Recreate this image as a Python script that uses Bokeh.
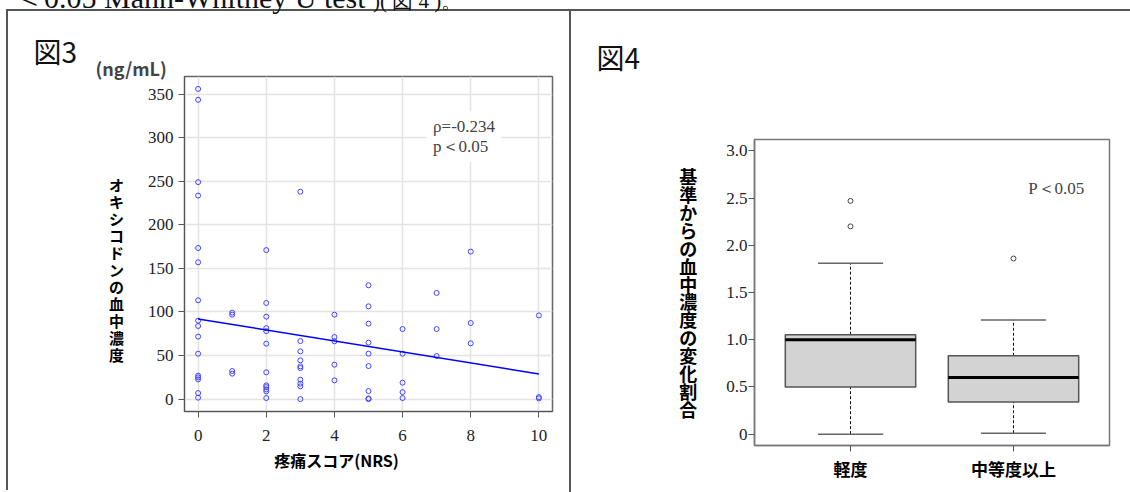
from bokeh.plotting import figure
from bokeh.models import Label, FixedTicker, Range1d, Title, Div
from bokeh.embed import file_html
from bokeh.resources import INLINE

# ---------------- data: figure 3 (scatter) ----------------
nrs_score = [0, 0, 0, 0, 0, 0, 0, 0, 0, 0, 0, 0, 0, 0, 0, 0,
             1, 1, 1, 1,
             2, 2, 2, 2, 2, 2, 2, 2, 2, 2, 2, 2,
             3, 3, 3, 3, 3, 3, 3, 3, 3, 3,
             4, 4, 4, 4, 4,
             5, 5, 5, 5, 5, 5, 5, 5, 5,
             6, 6, 6, 6, 6,
             7, 7, 7,
             8, 8, 8,
             10, 10, 10]
oxy_conc = [356, 343.5, 249, 233.6, 173.4, 157, 113.4, 90, 83.9, 71.7, 52.1, 26.9, 24.9, 22.6, 6.9, 1.6,
            99.2, 96.9, 32.2, 29.2,
            171, 110.3, 94.6, 81.5, 78, 63.6, 30.7, 15.7, 13.8, 11.1, 8.8, 1.2,
            238, 66.6, 54.8, 44.5, 37.6, 35.6, 22.3, 17.7, 14.6, 0,
            96.9, 71.2, 66.3, 39.5, 21.5,
            130.6, 106.5, 86.6, 64.8, 52.1, 37.9, 9.2, 0.8, 0,
            80.4, 52.1, 18.8, 8.0, 1.2,
            121.8, 80.4, 49.4,
            169.3, 87.3, 64,
            96, 2.3, 0.8]
reg_x = [0, 10]
reg_y = [92.0, 28.9]
x_ticks3 = [0, 2, 4, 6, 8, 10]
y_ticks3 = [0, 50, 100, 150, 200, 250, 300, 350]

# ---------------- data: figure 4 (boxplot) ----------------
groups = ["軽度", "中等度以上"]
group_pos = [1, 2]
q1 = [0.50, 0.34]
median = [1.00, 0.60]
q3 = [1.053, 0.83]
whisk_lo = [0.00, 0.01]
whisk_hi = [1.81, 1.21]
outlier_pos = [1, 1, 2]
outlier_val = [2.47, 2.20, 1.86]
y_ticks4 = [0, 0.5, 1.0, 1.5, 2.0, 2.5, 3.0]
y_labels4 = ["0", "0.5", "1.0", "1.5", "2.0", "2.5", "3.0"]

# text of the page above the panels (only its lower edge is visible in the picture)
page_text_latin = "＜0.05 Mann-Whitney U test"
page_text_tail = ")( 図 4 )。"

SERIF = "Liberation Serif"
JP = "Noto Sans CJK JP"
AX = "#555555"
LINE = "#555555"

# ---------------- figure 3 ----------------
p1 = figure(width=561, height=481, x_range=Range1d(-0.4, 10.4), y_range=Range1d(-14.24, 370.24),
            output_backend="svg", toolbar_location=None,
            min_border_left=176, min_border_right=17, min_border_top=65, min_border_bottom=81,
            styles={"position": "absolute", "left": "8px", "top": "11px",
                    "box-shadow": f"-2px -2px 0 0 {LINE}, 0 -2px 0 0 {LINE}, 2px 0 0 0 {LINE}"})
p1.title.visible = False
p1.xaxis.ticker = FixedTicker(ticks=x_ticks3)
p1.yaxis.ticker = FixedTicker(ticks=y_ticks3)
for ax in (p1.xaxis[0], p1.yaxis[0]):
    ax.axis_line_color = AX
    ax.major_tick_line_color = AX
    ax.major_tick_out = 6
    ax.major_tick_in = 0
    ax.minor_tick_line_color = None
    ax.major_label_text_font = SERIF
    ax.major_label_text_font_size = "17px"
    ax.major_label_text_color = "#222222"
    ax.axis_label_text_font = JP
    ax.axis_label_text_font_style = "bold"
    ax.axis_label_text_color = "black"
p1.yaxis.major_label_standoff = 5
p1.xaxis.major_label_standoff = 12
# vertical (tategaki) axis label; leading blank lines move it down like the original
p1.yaxis.axis_label = "\n\n\n" + "\n".join("オキシコドンの血中濃度")
p1.yaxis.axis_label_orientation = "horizontal"
p1.yaxis.axis_label_text_font_size = "15px"
p1.yaxis.axis_label_text_line_height = 0.81
p1.yaxis.axis_label_standoff = 21
p1.xaxis.axis_label = "疼痛スコア(NRS)" + "\u3000" * 4
p1.xaxis.axis_label_text_font_size = "16px"
p1.xaxis.axis_label_standoff = 4
p1.outline_line_color = "#666666"
p1.outline_line_width = 1.5
for g in (p1.xgrid[0], p1.ygrid[0]):
    g.grid_line_color = "#e3e3e3"
    g.grid_line_width = 1.5

p1.scatter(nrs_score, oxy_conc, marker="circle", size=5, fill_color=None,
           line_color="#4444ff", line_width=1)
p1.line(reg_x, reg_y, line_color="#0000ff", line_width=1.5)

p1.add_layout(Title(text="(ng/mL)", text_font=JP, text_font_size="18px", text_font_style="bold",
                    align="left", offset=-89, standoff=-8), "above")
p1.add_layout(Title(text="図3", text_font=JP, text_font_size="28px", text_font_style="normal",
                    text_color="#111111", align="left", offset=-151, standoff=-29), "above")
rho = Label(x=6.72, y=330.4, text="ρ=-0.234\np＜0.05", text_font=SERIF, text_font_size="17px",
            text_align="left", text_baseline="top", background_fill_color="white",
            text_line_height=1.03)
try:
    rho.padding = 6
except Exception:
    pass
p1.add_layout(rho)

# ---------------- figure 4 ----------------
p2 = figure(width=559, height=481, x_range=Range1d(0.411, 2.589), y_range=Range1d(-0.12, 3.12),
            output_backend="svg", toolbar_location=None,
            min_border_left=183, min_border_right=21, min_border_top=128, min_border_bottom=47,
            styles={"position": "absolute", "left": "571px", "top": "11px",
                    "box-shadow": f"-2px -2px 0 0 {LINE}, 0 -2px 0 0 {LINE}"})
p2.title.visible = False
p2.xgrid.visible = False
p2.ygrid.visible = False
p2.xaxis.ticker = FixedTicker(ticks=group_pos)
p2.xaxis.major_label_overrides = {pos: name for pos, name in zip(group_pos, groups)}
p2.yaxis.ticker = FixedTicker(ticks=y_ticks4)
p2.yaxis.major_label_overrides = {t: s for t, s in zip(y_ticks4, y_labels4)}
for ax in (p2.xaxis[0], p2.yaxis[0]):
    ax.axis_line_color = "#777777"
    ax.axis_line_width = 1.5
    ax.major_tick_line_color = AX
    ax.major_tick_out = 6
    ax.major_tick_in = 0
    ax.minor_tick_line_color = None
    ax.major_label_text_color = "#222222"
p2.yaxis.major_label_text_font = SERIF
p2.yaxis.major_label_text_font_size = "17px"
p2.yaxis.major_label_standoff = 1
p2.xaxis.major_label_text_font = JP
p2.xaxis.major_label_text_font_style = "bold"
p2.xaxis.major_label_text_font_size = "17px"
p2.xaxis.major_label_text_color = "black"
p2.xaxis.major_label_standoff = 4
p2.yaxis.axis_label = "\n".join("基準からの血中濃度の変化割合")
p2.yaxis.axis_label_orientation = "horizontal"
p2.yaxis.axis_label_text_font = JP
p2.yaxis.axis_label_text_font_style = "bold"
p2.yaxis.axis_label_text_font_size = "18px"
p2.yaxis.axis_label_text_line_height = 0.687
p2.yaxis.axis_label_text_color = "black"
p2.yaxis.axis_label_standoff = 26
p2.outline_line_color = "#777777"
p2.outline_line_width = 1.5

box_w = 0.8
cap_w = 0.4
p2.segment(x0=group_pos, y0=q3, x1=group_pos, y1=whisk_hi, line_color="#111111",
           line_width=1, line_dash="3 2")
p2.segment(x0=group_pos, y0=whisk_lo, x1=group_pos, y1=q1, line_color="#111111",
           line_width=1, line_dash="3 2")
p2.segment(x0=[c - cap_w / 2 for c in group_pos], y0=whisk_hi,
           x1=[c + cap_w / 2 for c in group_pos], y1=whisk_hi, line_color="#666666", line_width=1.5)
p2.segment(x0=[c - cap_w / 2 for c in group_pos], y0=whisk_lo,
           x1=[c + cap_w / 2 for c in group_pos], y1=whisk_lo, line_color="#666666", line_width=1.5)
p2.vbar(x=group_pos, width=box_w, bottom=q1, top=q3, fill_color="#d3d3d3",
        line_color="#555555", line_width=1.5)
p2.segment(x0=[c - box_w / 2 for c in group_pos], y0=median,
           x1=[c + box_w / 2 for c in group_pos], y1=median, line_color="black", line_width=3)
p2.scatter(outlier_pos, outlier_val, marker="circle", size=5, fill_color=None,
           line_color="#444444", line_width=1)

p2.add_layout(Title(text="図4\n", text_font=JP, text_font_size="28px", text_font_style="normal",
                    text_color="#111111", text_line_height=1.0, align="left", offset=-158,
                    standoff=45), "above")
p2.add_layout(Label(x=2.09, y=2.599, text="P＜0.05", text_font=SERIF, text_font_size="17px",
                    text_align="left", text_baseline="middle"))

# page text cut by the top edge of the picture (as in the original screenshot)
top_text = Div(text=page_text_latin + ' <span style="font-size:21px">' + page_text_tail + "</span>",
               width=560, height=32,
               styles={"position": "absolute", "left": "9px", "top": "-22px",
                       "font-family": SERIF, "font-size": "30px", "line-height": "30px",
                       "white-space": "nowrap", "color": "#111111"})

open("out.html", "w").write(file_html([p1, p2, top_text], INLINE))
